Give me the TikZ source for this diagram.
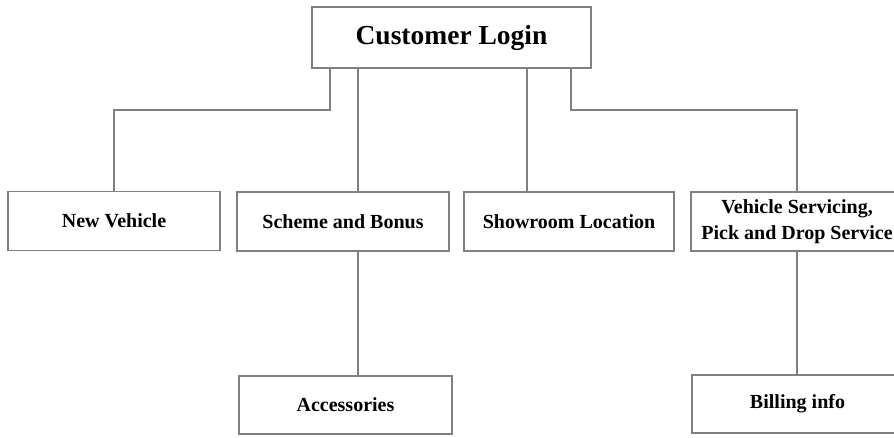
\documentclass[tikz,border=0pt]{standalone}
\usepackage{fontspec}
\setmainfont{Liberation Serif}

\begin{document}
\begin{tikzpicture} [
    x=1pt, y=-1pt,
    box/.style={rectangle, draw=gray, line width=1.2pt, inner sep=2pt,
      minimum width=212pt, minimum height=59pt, align=center,
      font=\bfseries\fontsize{20}{26}\selectfont},
    link/.style={draw=gray, line width=1.2pt},
    ]
    \useasboundingbox (0,0) rectangle (894,437);
    \clip (0,0) rectangle (894,437);
    % Top
    \node[box, minimum width=279pt, minimum height=61pt,
      font=\bfseries\fontsize{27.5}{30}\selectfont] (login) at (451.5,37.5) {Customer Login};
    % Second row
    \node[box] (newv) at (114,221) {New Vehicle};
    \node[box] (scheme) at (343,221.5) {Scheme and Bonus};
    \node[box, minimum width=210pt] (showroom) at (569,221.5) {Showroom Location};
    \node[box] (service) at (797,221.5) {Vehicle Servicing,\\Pick and Drop Service};
    % Third row
    \node[box, minimum width=213pt, minimum height=58pt] (access) at (345.5,405) {Accessories};
    \node[box, minimum width=211pt, minimum height=58pt] (bill) at (797.5,404) {Billing info};
    % bends
    \coordinate (jl) at (330,110);
    \coordinate (jr) at (571,110);
    \coordinate (xs) at (358,0);
    \coordinate (xr) at (527,0);
    \path [link]
    (login.south -| jl) -- (jl) -| (newv.north)
    (login.south -| xs) -- (scheme.north -| xs)
    (login.south -| xr) -- (showroom.north -| xr)
    (login.south -| jr) -- (jr) -| (service.north)
    (scheme.south -| xs) -- (access.north -| xs)
    (service.south) -- (bill.north -| service.south);
  \end{tikzpicture}
\end{document}
